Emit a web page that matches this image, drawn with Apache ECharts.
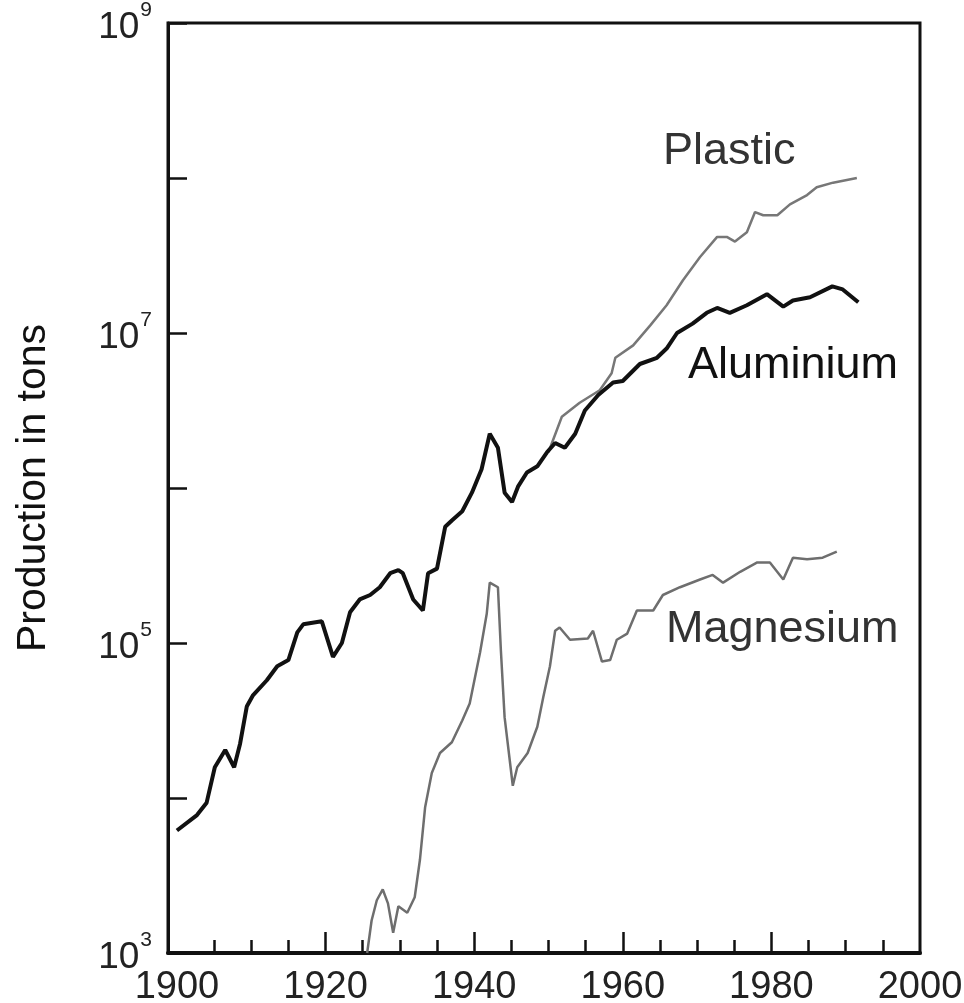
<!DOCTYPE html>
<html>
<head>
<meta charset="utf-8">
<script src="https://cdn.jsdelivr.net/npm/echarts@6.0.0/dist/echarts.min.js"></script>
<style>
html,body{margin:0;padding:0;background:#ffffff;}
#chart{width:964px;height:1003px;}
</style>
</head>
<body>
<div id="chart"></div>
<script>
// ---------- data ----------
const aluminiumYears = [1900.0,1902.7,1904.0,1905.1,1906.5,1907.7,1908.5,1909.4,1910.2,1912.1,1913.5,1915.0,1916.2,1917.0,1919.5,1921.0,1922.2,1923.3,1924.6,1926.0,1927.3,1928.7,1929.8,1930.4,1931.8,1933.1,1933.8,1935.0,1936.1,1937.0,1938.4,1939.7,1941.0,1942.1,1943.2,1944.1,1945.1,1945.9,1947.1,1948.5,1949.8,1950.9,1952.2,1953.6,1954.9,1956.7,1958.7,1960.0,1962.3,1964.6,1965.9,1967.3,1969.4,1971.3,1972.7,1974.4,1976.7,1979.4,1981.6,1982.9,1985.2,1988.2,1989.6,1991.7];
const aluminiumValues = [6170,7760,9330,15800,20400,15800,22400,38900,45700,57500,70800,77600,117000,132000,138000,81300,100000,158000,191000,204000,229000,282000,295000,282000,191000,162000,282000,302000,562000,617000,708000,933000,1.32e6,2.24e6,1.82e6,933000,813000,1.02e6,1.26e6,1.38e6,1.70e6,1.95e6,1.82e6,2.24e6,3.16e6,3.98e6,4.79e6,4.90e6,6.31e6,6.92e6,7.94e6,1.00e7,1.15e7,1.35e7,1.45e7,1.35e7,1.51e7,1.78e7,1.48e7,1.62e7,1.70e7,2.00e7,1.91e7,1.58e7];

const plasticYears = [1950.0,1951.8,1954.2,1956.9,1958.5,1959.0,1961.4,1963.7,1965.9,1968.1,1970.4,1972.7,1974.0,1975.1,1976.7,1977.8,1978.9,1980.8,1982.5,1984.8,1986.1,1988.3,1991.5];
const plasticValues = [1.70e6,2.88e6,3.55e6,4.27e6,5.50e6,6.92e6,8.32e6,1.12e7,1.51e7,2.19e7,3.09e7,4.17e7,4.17e7,3.89e7,4.47e7,6.03e7,5.75e7,5.75e7,6.76e7,7.76e7,8.71e7,9.33e7,1.00e8];

const magnesiumYears = [1925.6,1926.2,1926.9,1927.7,1928.4,1929.1,1929.8,1931.0,1932.0,1932.7,1933.4,1934.3,1935.4,1937.0,1938.4,1939.4,1940.8,1941.7,1942.1,1943.2,1943.6,1944.1,1945.2,1945.8,1947.2,1948.5,1949.3,1950.2,1950.9,1951.5,1952.9,1955.3,1956.0,1957.2,1958.3,1959.2,1960.6,1961.9,1964.1,1965.4,1967.7,1970.4,1972.1,1973.5,1975.8,1978.1,1979.8,1981.6,1982.9,1984.8,1986.9,1988.8];
const magnesiumValues = [1000,1620,2190,2570,2090,1350,2000,1820,2290,3980,8710,14500,19500,22900,31600,40700,87100,155000,245000,229000,89100,33100,12000,15800,19500,28800,44700,70800,120000,126000,105000,107000,120000,75900,77600,105000,115000,162000,162000,204000,229000,257000,275000,245000,288000,331000,331000,257000,355000,347000,355000,389000];

const xLabelValues = [1900,1920,1940,1960,1980,2000];
const xMajorTicks = [1920,1940,1960,1980];
const xMinorTicks = [1905,1910,1915,1925,1930,1935,1945,1950,1955,1965,1970,1975,1985,1990,1995];
const yTickValues = [1e3,1e4,1e5,1e6,1e7,1e8,1e9];
const yLabelValues = [1e3,1e5,1e7,1e9];
const seriesNames = ['Plastic','Aluminium','Magnesium'];
const yAxisTitle = 'Production in tons';

// ---------- chart ----------
const F = "'Liberation Sans', Arial, Helvetica, sans-serif";
const zip = (xs, ys) => xs.map((x, i) => [x, ys[i]]);

const chart = echarts.init(document.getElementById('chart'), null, {renderer: 'canvas'});
const XMIN = 1898.8, XMAX = 2000;

chart.setOption({
  animation: false,
  backgroundColor: '#ffffff',
  grid: {
    left: 168, right: 44, top: 23, bottom: 50,
    containLabel: false, outerBoundsMode: 'none',
    show: true, borderColor: '#111', borderWidth: 3, backgroundColor: 'transparent'
  },
  xAxis: [
    {
      type: 'value', min: XMIN, max: XMAX, position: 'bottom',
      splitLine: {show: false},
      axisLine: {show: true, lineStyle: {color: '#111', width: 4}},
      axisTick: {show: true, inside: true, length: 21, customValues: xMajorTicks, lineStyle: {color: '#111', width: 2.5}},
      axisLabel: {show: true, customValues: xLabelValues, margin: 16, fontSize: 38, color: '#222', fontFamily: F,
                  formatter: v => String(Math.round(v))}
    },
    {
      type: 'value', min: XMIN, max: XMAX, position: 'bottom', offset: 0,
      splitLine: {show: false},
      axisLine: {show: false},
      axisTick: {show: true, inside: true, length: 13, customValues: xMinorTicks, lineStyle: {color: '#111', width: 2.5}},
      axisLabel: {show: false}
    }
  ],
  yAxis: {
    type: 'log', logBase: 10, min: 1e3, max: 1e9,
    splitLine: {show: false},
    axisLine: {show: true, lineStyle: {color: '#111', width: 3}},
    axisTick: {show: true, inside: true, length: 19, customValues: yTickValues, lineStyle: {color: '#111', width: 2.5}},
    axisLabel: {
      show: true, customValues: yLabelValues, margin: 16,
      formatter: v => '{b|10}{s|' + Math.round(Math.log10(v)) + '}',
      rich: {
        b: {fontSize: 37, color: '#222', fontFamily: F, lineHeight: 46, verticalAlign: 'bottom'},
        s: {fontSize: 21, color: '#222', fontFamily: F, lineHeight: 22, verticalAlign: 'top', padding: [0, 0, 0, 1]}
      }
    },
    name: yAxisTitle, nameLocation: 'middle', nameRotate: 90, nameGap: 114,
    nameTextStyle: {fontSize: 41, color: '#111', fontFamily: F}
  },
  series: [
    {
      name: seriesNames[1], type: 'line', xAxisIndex: 0, data: zip(aluminiumYears, aluminiumValues),
      showSymbol: false, symbol: 'none', smooth: false, clip: true,
      lineStyle: {color: '#111', width: 4}, z: 3
    },
    {
      name: seriesNames[0], type: 'line', xAxisIndex: 0, data: zip(plasticYears, plasticValues),
      showSymbol: false, symbol: 'none', smooth: false, clip: true,
      lineStyle: {color: '#777', width: 2.5}, z: 2
    },
    {
      name: seriesNames[2], type: 'line', xAxisIndex: 0, data: zip(magnesiumYears, magnesiumValues),
      showSymbol: false, symbol: 'none', smooth: false, clip: true,
      lineStyle: {color: '#6e6e6e', width: 2.5}, z: 2
    }
  ],
  graphic: [
    {type: 'text', left: 663, top: 129, style: {text: seriesNames[0], fontSize: 45, fill: '#333', fontFamily: F}},
    {type: 'text', left: 688, top: 343, style: {text: seriesNames[1], fontSize: 45, fill: '#111', fontFamily: F}},
    {type: 'text', left: 666, top: 607, style: {text: seriesNames[2], fontSize: 45, fill: '#333', fontFamily: F}}
  ]
});
</script>
</body>
</html>
